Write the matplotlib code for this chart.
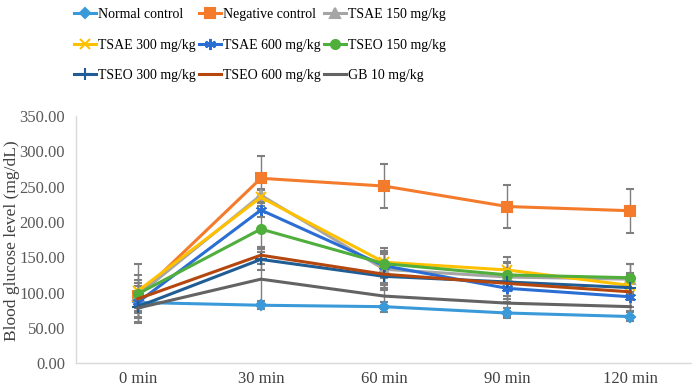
import matplotlib.pyplot as plt
from matplotlib.lines import Line2D
import matplotlib

matplotlib.rcParams['font.family'] = ['Liberation Serif', 'DejaVu Serif']

# 数据
times = ["0 min", "30 min", "60 min", "90 min", "120 min"]
labels = ["Normal control", "Negative control", "TSAE 150 mg/kg",
          "TSAE 300 mg/kg", "TSAE 600 mg/kg", "TSEO 150 mg/kg",
          "TSEO 300 mg/kg", "TSEO 600 mg/kg", "GB 10 mg/kg"]

normal = [86, 82, 80, 71, 66]
negative = [95, 262, 251, 222, 216]
tsae150 = [96, 238, 133, 122, 119]
tsae300 = [102, 235, 143, 132, 110]
tsae600 = [86, 217, 138, 106, 94]
tseo150 = [98, 190, 141, 125, 121]
tseo300 = [80, 147, 123, 115, 107]
tseo600 = [91, 153, 126, 113, 101]
gb10 = [78, 119, 95, 85, 80]

err_normal = [12, 6, 7, 7, 6]
err_negative = [30, 31, 31, 30, 31]
err_tsae150 = [18, 8, 22, 20, 22]
err_tsae300 = [38, 12, 20, 18, 18]
err_tsae600 = [15, 10, 18, 20, 20]
err_tseo150 = [20, 25, 18, 18, 20]
err_tseo300 = [22, 15, 20, 20, 18]
err_tseo600 = [18, 12, 20, 22, 22]
err_gb10 = [21, 38, 18, 18, 20]

series = [normal, negative, tsae150, tsae300, tsae600, tseo150, tseo300, tseo600, gb10]
errors = [err_normal, err_negative, err_tsae150, err_tsae300, err_tsae600,
          err_tseo150, err_tseo300, err_tseo600, err_gb10]
colors = ['#3A9AD9', '#F47B2B', '#A5A5A5', '#FFC000', '#2A6ED4',
          '#50AE3C', '#1F5D94', '#B5470E', '#636363']
markers = ['D', 's', '^', 'x', (6, 2, 0), 'o', '+', None, None]
msizes = [5, 6.5, 6.5, 7, 8, 6.5, 8, 0, 0]

fig = plt.figure(figsize=(6.92, 3.9), dpi=100)
ax = fig.add_axes([0.110, 0.069, 0.890, 0.633])

x = list(range(len(times)))
handles = []
for i in range(len(series)):
    ax.errorbar(x, series[i], yerr=errors[i], color=colors[i], lw=2.2,
                marker=markers[i], markersize=msizes[i], markeredgewidth=1.5,
                ecolor='#7F7F7F', elinewidth=1, capsize=3, capthick=1)
    handles.append(Line2D([], [], color=colors[i], lw=2.2, marker=markers[i],
                          markersize=msizes[i], markeredgewidth=1.5, label=labels[i]))

ax.set_xlim(-0.5, 4.5)
ax.set_ylim(0, 350)
ax.set_xticks(x)
ax.set_xticklabels(times, fontsize=12, color='#404040')
ax.set_yticks(range(0, 351, 50))
ax.set_yticklabels([f"{v:.2f}" for v in range(0, 351, 50)], fontsize=12, color='#595959')
ax.tick_params(axis='y', length=0, pad=8)
ax.tick_params(axis='x', length=0, pad=6)
fig.text(0.018, 0.382, "Blood glucose level (mg/dL)", rotation=90, fontsize=12.5,
         color='#404040', ha='center', va='center')

for s in ['top', 'right']:
    ax.spines[s].set_visible(False)
for s in ['left', 'bottom']:
    ax.spines[s].set_color('#D9D9D9')
    ax.spines[s].set_linewidth(1)

# 按行排列图例
order = [0, 3, 6, 1, 4, 7, 2, 5, 8]
fig.legend([handles[k] for k in order], [labels[k] for k in order], ncol=3,
           loc='upper left', bbox_to_anchor=(0.095, 1.0),
           frameon=False, fontsize=10, handlelength=1.6, handletextpad=0.15,
           columnspacing=0.2, labelspacing=1.25, borderaxespad=0.2)

plt.savefig("out.png", dpi=100)
